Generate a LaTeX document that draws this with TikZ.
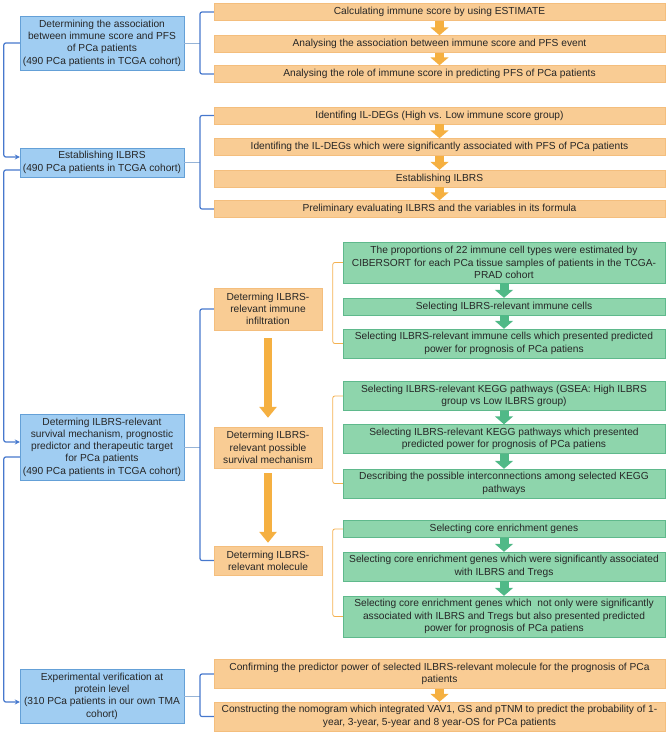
\documentclass[tikz,border=0pt]{standalone}
\usepackage{fontspec}
\setmainfont{Liberation Sans}
\usetikzlibrary{arrows.meta}
\definecolor{bluefill}{RGB}{160,205,242}
\definecolor{blueedge}{RGB}{100,160,215}
\definecolor{blueline}{RGB}{70,120,205}
\definecolor{bluethin}{RGB}{150,180,215}
\definecolor{orangefill}{RGB}{249,204,148}
\definecolor{orangeedge}{RGB}{244,190,125}
\definecolor{orangeline}{RGB}{244,177,80}
\definecolor{orangearrow}{RGB}{245,176,65}
\definecolor{greenfill}{RGB}{142,213,172}
\definecolor{greenedge}{RGB}{95,185,140}
\definecolor{greenarrow}{RGB}{80,185,135}

\begin{document}
\begin{tikzpicture}[x=1pt, y=-1pt,
	every node/.style={inner sep=0pt, align=center, text=black!85, font=\fontsize{10.2}{12.3}\selectfont},
	bluebox/.style={draw=blueedge, fill=bluefill, minimum width=164pt},
	orangebox/.style={draw=orangeedge, fill=orangefill},
	widebox/.style={orangebox, minimum width=451pt},
	midbox/.style={orangebox, minimum width=108pt},
	greenbox/.style={draw=greenedge, fill=greenfill, minimum width=322pt},
	tie/.style={draw=bluethin, line width=0.7pt},
	brace/.style={draw=blueline, line width=1.2pt, rounded corners=2pt},
	obrace/.style={draw=orangeline, line width=0.8pt, rounded corners=2pt},
	feed/.style={draw=blueline, line width=1.2pt, rounded corners=2pt, -{Stealth[length=5pt,width=5pt]}},
	smallarrow/.style={draw=orangearrow, line width=9pt, -{Triangle[width=18pt,length=8pt]}},
	greenarrow/.style={draw=greenarrow, line width=9pt, -{Triangle[width=18pt,length=8pt]}},
	bigarrow/.style={draw=orangearrow, line width=8pt, -{Triangle[width=17pt,length=11pt]}}]
			\useasboundingbox (0,0) rectangle (669,734);
			
			\node[bluebox, minimum height=54pt] (b1) at (102,43){Determining the association\\between immune score and PFS\\of PCa patients\\(490 PCa patients in TCGA cohort)};
			\node[bluebox, minimum height=29pt] (b2) at (102,162.5){Establishing ILBRS\\(490 PCa patients in TCGA cohort)};
			\node[bluebox, minimum height=66pt] (b3) at (102,447){Determing ILBRS-relevant\\survival mechanism, prognostic\\predictor and therapeutic target\\for PCa patients\\(490 PCa patients in TCGA cohort)};
			\node[bluebox, minimum height=54pt] (b4) at (102,696){Experimental verification at\\protein level\\(310 PCa patients in our own TMA\\cohort)};
			
			\node[widebox, minimum height=17pt] (t1) at (439.5,12){Calculating immune score by using ESTIMATE};
			\node[widebox, minimum height=17pt] (t2) at (439.5,44){Analysing the association between immune score and PFS event};
			\node[widebox, minimum height=17pt] (t3) at (439.5,74){Analysing the role of immune score in predicting PFS of PCa patients};
			
			\node[widebox, minimum height=17pt] (s1) at (439.5,115.5){Identifing IL-DEGs (High vs. Low immune score group)};
			\node[widebox, minimum height=17pt] (s2) at (439.5,147){Identifing the IL-DEGs which were significantly associated with PFS of PCa patients};
			\node[widebox, minimum height=17pt] (s3) at (439.5,178.5){Establishing ILBRS};
			\node[widebox, minimum height=17pt] (s4) at (439.5,209){Preliminary evaluating ILBRS and the variables in its formula};
			
			\node[midbox, minimum height=42pt] (m1) at (268,309){Determing ILBRS-\\relevant immune\\infiltration};
			\node[midbox, minimum height=41pt] (m2) at (268,447.5){Determing ILBRS-\\relevant possible\\survival mechanism};
			\node[midbox, minimum height=29pt] (m3) at (268,560.5){Determing ILBRS-\\relevant molecule};
			
			\node[greenbox, minimum height=41pt] (ga) at (504,262.5){The proportions of 22 immune cell types were estimated by\\CIBERSORT for each PCa tissue samples of patients in the TCGA-\\PRAD cohort};
			\node[greenbox, minimum height=17pt] (gb) at (504,306.5){Selecting ILBRS-relevant immune cells};
			\node[greenbox, minimum height=29pt] (gc) at (504,343.5){Selecting ILBRS-relevant immune cells which presented predicted\\power for prognosis of PCa patiens};
			
			\node[greenbox, minimum height=29pt] (gd) at (504,396){Selecting ILBRS-relevant KEGG pathways (GSEA: High ILBRS\\group vs Low ILBRS group)};
			\node[greenbox, minimum height=29pt] (ge) at (504,439){Selecting ILBRS-relevant KEGG pathways which presented\\predicted power for prognosis of PCa patiens};
			\node[greenbox, minimum height=29pt] (gf) at (504,483.5){Describing the possible interconnections among selected KEGG\\pathways};
			
			\node[greenbox, minimum height=17pt] (gg) at (504,529){Selecting core enrichment genes};
			\node[greenbox, minimum height=29pt] (gh) at (504,566.5){Selecting core enrichment genes which were significantly associated\\with ILBRS and Tregs};
			\node[greenbox, minimum height=41pt] (gi) at (504,616.5){Selecting core enrichment genes which\ \ not only were significantly\\associated with ILBRS and Tregs but also presented predicted\\power for prognosis of PCa patiens};
			
			\node[widebox, minimum height=29pt] (oj) at (439.5,674){Confirming the predictor power of selected ILBRS-relevant molecule for the prognosis of PCa\\patients};
			\node[widebox, minimum height=29pt] (ok) at (439.5,716.5){Constructing the nomogram which integrated VAV1, GS and pTNM to predict the probability of 1-\\year, 3-year, 5-year and 8 year-OS for PCa patients};
			
			\coordinate (k1) at (200,43);
			\coordinate (k2) at (200,162.5);
			\coordinate (k3) at (200,447);
			\coordinate (k4) at (200,696);
			
			\path[tie] (b1.east) -- (k1);
			\path[tie] (b2.east) -- (k2);
			\path[tie] (b3.east) -- (k3);
			\path[tie] (b4.east) -- (k4);
			\path[brace] (t1.west) -| (k1) |- (t3.west);
			\path[brace] (s1.west) -| (k2) |- (s4.west);
			\path[brace] (m1.west) -| (k3) |- (m3.west);
			\path[brace] (oj.west) -| (k4) |- (ok.west);
			
			\path[obrace] (ga.west) -- ++(-10,0) |- (gc.west);
			\path[obrace] (gd.west) -- ++(-10,0) |- (gf.west);
			\path[obrace] (gg.west) -- ++(-10,0) |- (gi.west);
			
			\path[feed] (b1.west) -- ++(-16,0) |- ([yshift=5.5pt]b2.west);
			\path[feed] ([yshift=-7.5pt]b2.west) -- ++(-16,0) |- ([yshift=5pt]b3.west);
			\path[feed] ([yshift=-10pt]b3.west) -- ++(-16,0) |- ([yshift=-6pt]b4.west);
			
			\path[smallarrow] (t1) -- (t2);
			\path[smallarrow] (t2) -- (t3);
			\path[smallarrow] (s1) -- (s2);
			\path[smallarrow] (s2) -- (s3);
			\path[smallarrow] (s3) -- (s4);
			\path[smallarrow] (oj) -- (ok);
			
			\path[greenarrow] (ga) -- (gb);
			\path[greenarrow] (gb) -- (gc);
			\path[greenarrow] (gd) -- (ge);
			\path[greenarrow] (ge) -- (gf);
			\path[greenarrow] (gg) -- (gh);
			\path[greenarrow] (gh) -- (gi);
			
			\path[bigarrow] ([yshift=-8pt]m1.south) -- ([yshift=9pt]m2.north);
			\path[bigarrow] ([yshift=-5pt]m2.south) -- ([yshift=3pt]m3.north);
			\end{tikzpicture}
\end{document}
